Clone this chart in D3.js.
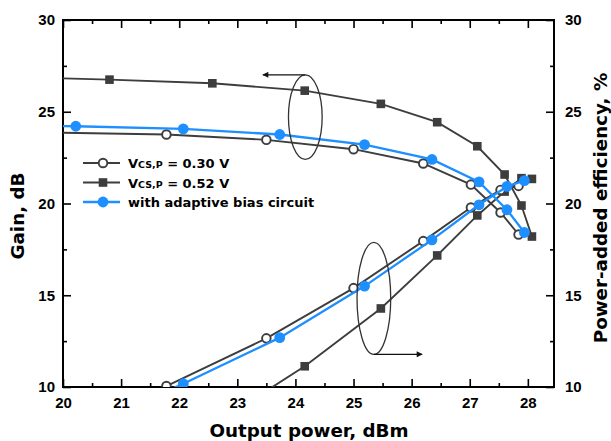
<!DOCTYPE html>
<html>
<head>
<meta charset="utf-8">
<script src="https://cdn.jsdelivr.net/npm/d3@7"></script>
<style>
  body { margin: 0; background: #fff; }
  svg { display: block; }
  .tick text { font-family: "Liberation Sans", Arial, sans-serif; font-weight: bold; font-size: 15px; fill: #000; }
  .tick line { stroke: #000; stroke-width: 1.6; }
</style>
</head>
<body>
<div id="chart"></div>
<script>
// data (output power in dBm, gain in dB, PAE in %)
var pout030 = [19.6, 21.78, 23.50, 25.00, 26.20, 27.02, 27.53, 27.84];
var gain030 = [23.88, 23.76, 23.47, 22.96, 22.18, 21.03, 19.51, 18.31];
var pae030  = [7.4, 10.05, 12.65, 15.39, 17.95, 19.78, 20.74, 20.96];

var pout052 = [19.0, 20.80, 22.57, 24.16, 25.47, 26.44, 27.13, 27.60, 27.89, 28.07];
var gain052 = [26.90, 26.75, 26.55, 26.15, 25.43, 24.43, 23.12, 21.58, 19.89, 18.20];
var pae052  = [3.5, 5.6, 7.9, 11.13, 14.28, 17.17, 19.35, 20.65, 21.38, 21.34];

var poutAdb = [18.4, 20.22, 22.07, 23.73, 25.19, 26.35, 27.16, 27.64, 27.94];
var gainAdb = [24.30, 24.21, 24.07, 23.76, 23.21, 22.40, 21.18, 19.66, 18.42];
var paeAdb  = [5.2, 7.6, 10.18, 12.69, 15.50, 18.02, 19.93, 20.93, 21.25];

var xTicks = [20, 21, 22, 23, 24, 25, 26, 27, 28];
var xMinor = [20.5, 21.5, 22.5, 23.5, 24.5, 25.5, 26.5, 27.5];
var yTicks = [10, 15, 20, 25, 30];
var yMinor = [12.5, 17.5, 22.5, 27.5];

var legendNames = ["= 0.30 V", "= 0.52 V", "with adaptive bias circuit"];

// ellipse annotations: centre, radii (data units), arrow end x
var gainMark = {cx: 24.17, cy: 24.71, rx: 0.29, ry: 2.3, arrowTo: 23.44};
var paeMark  = {cx: 25.35, cy: 14.83, rx: 0.29, ry: 3.05, arrowTo: 26.18};

var width = 611, height = 441;
var dark = "#3d3d3d", blue = "#1e8fff";

var svg = d3.select("#chart").append("svg")
  .attr("width", width).attr("height", height);

var x = d3.scaleLinear().domain([20, 28.45]).range([63, 554]);
var y = d3.scaleLinear().domain([10, 30]).range([387, 20]);

function zip(xs, ys) {
  return xs.map(function(v, i) { return [v, ys[i]]; });
}

var series = [
  {name: "052", xs: pout052, g: gain052, p: pae052, color: dark, sym: "square"},
  {name: "030", xs: pout030, g: gain030, p: pae030, color: dark, sym: "open"},
  {name: "adb", xs: poutAdb, g: gainAdb, p: paeAdb, color: blue, sym: "dot"}
];

svg.append("defs").append("clipPath").attr("id", "clip")
  .append("rect").attr("x", 63).attr("y", 20).attr("width", 491).attr("height", 367);

svg.append("defs").append("marker")
  .attr("id", "arrow").attr("viewBox", "0 0 10 10")
  .attr("refX", 9).attr("refY", 5)
  .attr("markerWidth", 9).attr("markerHeight", 6)
  .attr("markerUnits", "userSpaceOnUse")
  .attr("orient", "auto")
  .append("path").attr("d", "M0,0L10,5L0,10Z").attr("fill", "#111");

// axes, ticks inward
function clean(g) { g.select(".domain").remove(); }

svg.append("g").attr("transform", "translate(0,387)")
  .call(d3.axisBottom(x).tickValues(xTicks).tickSize(-8).tickSizeOuter(0).tickPadding(10).tickFormat(d3.format("d")))
  .call(clean);
svg.append("g").attr("transform", "translate(0,387)")
  .call(d3.axisBottom(x).tickValues(xMinor).tickSize(-4).tickSizeOuter(0).tickFormat(""))
  .call(clean);
svg.append("g").attr("transform", "translate(0,20)")
  .call(d3.axisTop(x).tickValues(xTicks).tickSize(-8).tickSizeOuter(0).tickFormat(""))
  .call(clean);
svg.append("g").attr("transform", "translate(0,20)")
  .call(d3.axisTop(x).tickValues(xMinor).tickSize(-4).tickSizeOuter(0).tickFormat(""))
  .call(clean);

svg.append("g").attr("transform", "translate(63,0)")
  .call(d3.axisLeft(y).tickValues(yTicks).tickSize(-8).tickSizeOuter(0).tickPadding(8))
  .call(clean);
svg.append("g").attr("transform", "translate(63,0)")
  .call(d3.axisLeft(y).tickValues(yMinor).tickSize(-4).tickSizeOuter(0).tickFormat(""))
  .call(clean);
svg.append("g").attr("transform", "translate(554,0)")
  .call(d3.axisRight(y).tickValues(yTicks).tickSize(-8).tickSizeOuter(0).tickPadding(11))
  .call(clean);
svg.append("g").attr("transform", "translate(554,0)")
  .call(d3.axisRight(y).tickValues(yMinor).tickSize(-4).tickSizeOuter(0).tickFormat(""))
  .call(clean);

svg.append("rect")
  .attr("x", 63).attr("y", 20).attr("width", 491).attr("height", 367)
  .attr("fill", "none").attr("stroke", "#000").attr("stroke-width", 2);

// curves
var line = d3.line().x(function(d) { return x(d[0]); }).y(function(d) { return y(d[1]); });
var plot = svg.append("g").attr("clip-path", "url(#clip)");

function drawMarks(g, s, pts) {
  if (s.sym === "square") {
    g.selectAll(null).data(pts).enter().append("rect")
      .attr("x", function(d) { return x(d[0]) - 4.3; })
      .attr("y", function(d) { return y(d[1]) - 4.3; })
      .attr("width", 8.6).attr("height", 8.6)
      .attr("fill", s.color);
  } else if (s.sym === "open") {
    g.selectAll(null).data(pts).enter().append("circle")
      .attr("cx", function(d) { return x(d[0]); })
      .attr("cy", function(d) { return y(d[1]); })
      .attr("r", 4.3).attr("fill", "#fff")
      .attr("stroke", s.color).attr("stroke-width", 1.9);
  } else {
    g.selectAll(null).data(pts).enter().append("circle")
      .attr("cx", function(d) { return x(d[0]); })
      .attr("cy", function(d) { return y(d[1]); })
      .attr("r", 5.4).attr("fill", s.color);
  }
}

series.forEach(function(s) {
  [zip(s.xs, s.g), zip(s.xs, s.p)].forEach(function(pts) {
    plot.append("path").datum(pts)
      .attr("fill", "none").attr("stroke", s.color)
      .attr("stroke-width", s.sym === "dot" ? 2.3 : 1.9)
      .attr("d", line);
    drawMarks(plot.append("g"), s, pts);
  });
});

// ellipses with arrows
[gainMark, paeMark].forEach(function(m, i) {
  svg.append("ellipse")
    .attr("cx", x(m.cx)).attr("cy", y(m.cy))
    .attr("rx", x(m.cx + m.rx) - x(m.cx)).attr("ry", y(m.cy) - y(m.cy + m.ry))
    .attr("fill", "none").attr("stroke", "#333").attr("stroke-width", 1.3);
  var ay = i === 0 ? m.cy + m.ry : m.cy - m.ry;
  svg.append("line")
    .attr("x1", x(m.cx)).attr("y1", y(ay))
    .attr("x2", x(m.arrowTo)).attr("y2", y(ay))
    .attr("stroke", "#111").attr("stroke-width", 1.3)
    .attr("marker-end", "url(#arrow)");
});

// legend
var leg = svg.append("g");
var legRows = [series[1], series[0], series[2]];
legRows.forEach(function(s, i) {
  var ly = 163 + i * 19.5;
  leg.append("line").attr("x1", 83).attr("x2", 120).attr("y1", ly).attr("y2", ly)
    .attr("stroke", s.color).attr("stroke-width", s.sym === "dot" ? 2.3 : 1.9);
  drawMarks(leg.append("g"), s, [[x.invert(103), y.invert(ly)]]);
  var t = leg.append("text").attr("x", 128).attr("y", ly + 5)
    .attr("font-family", "DejaVu Sans, Verdana, sans-serif")
    .attr("font-weight", "bold").attr("font-size", "13px");
  if (i < 2) {
    t.append("tspan").text("V");
    t.append("tspan").attr("font-size", "9.5px").text("CS,P");
    t.append("tspan").text(" " + legendNames[i]);
  } else {
    t.text(legendNames[i]);
  }
});

// axis titles
function title(txt, tx, ty, rot) {
  svg.append("text")
    .attr("transform", "translate(" + tx + "," + ty + ") rotate(" + rot + ")")
    .attr("text-anchor", "middle")
    .attr("font-family", "DejaVu Sans, Verdana, sans-serif")
    .attr("font-weight", "bold").attr("font-size", "18.3px")
    .text(txt);
}
title("Output power, dBm", 309, 437, 0);
title("Gain, dB", 24, 216, -90);
title("Power-added efficiency, %", 607, 208, -90);
</script>
</body>
</html>
